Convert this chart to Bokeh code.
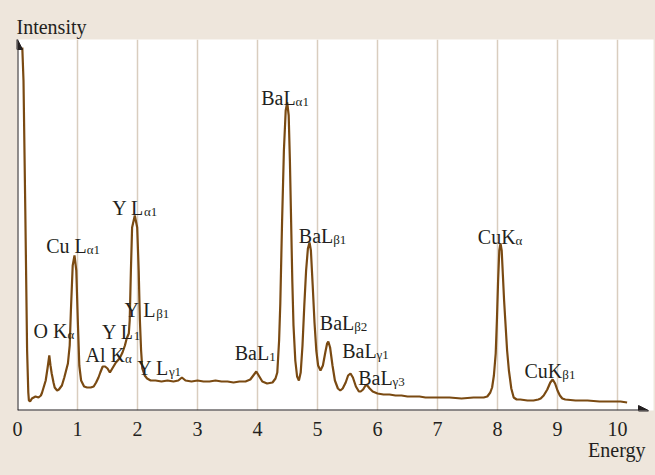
from bokeh.plotting import figure
from bokeh.models import Range1d, FixedTicker, Arrow, NormalHead, Title, ColumnDataSource
from bokeh.core.properties import value
from bokeh.embed import file_html
from bokeh.resources import INLINE
from jinja2 import Template

# ---------------- data ----------------
energy = [0.08, 0.10, 0.13, 0.16, 0.18, 0.19, 0.21, 0.24, 0.27, 0.30, 0.35, 0.39, 0.41, 0.44,
          0.47, 0.50, 0.53, 0.55, 0.57, 0.60, 0.62, 0.66, 0.69, 0.74, 0.78, 0.81, 0.84, 0.87,
          0.89, 0.92, 0.95, 0.98, 1.005, 1.03, 1.06, 1.11, 1.16, 1.22, 1.27, 1.31, 1.35, 1.38,
          1.42, 1.46, 1.50, 1.54, 1.58, 1.64, 1.70, 1.75, 1.79, 1.82, 1.855, 1.87, 1.89, 1.91,
          1.955, 1.995, 2.02, 2.04, 2.06, 2.08, 2.12, 2.16, 2.22, 2.30, 2.40, 2.50, 2.60, 2.68,
          2.74, 2.80, 2.90, 3.00, 3.10, 3.20, 3.30, 3.40, 3.50, 3.60, 3.70, 3.80, 3.88, 3.93,
          3.98, 4.03, 4.08, 4.16, 4.25, 4.30, 4.33, 4.36, 4.38, 4.41, 4.44, 4.47, 4.495, 4.52,
          4.54, 4.56, 4.58, 4.60, 4.63, 4.66, 4.69, 4.72, 4.75, 4.78, 4.81, 4.84, 4.867, 4.89,
          4.92, 4.95, 4.98, 5.01, 5.05, 5.09, 5.13, 5.16, 5.18, 5.21, 5.25, 5.29, 5.34, 5.38,
          5.42, 5.47, 5.51, 5.55, 5.59, 5.64, 5.69, 5.72, 5.76, 5.80, 5.83, 5.87, 5.92, 6.00,
          6.10, 6.20, 6.30, 6.40, 6.50, 6.60, 6.70, 6.80, 6.90, 7.00, 7.20, 7.40, 7.60, 7.77,
          7.83, 7.88, 7.91, 7.94, 7.97, 7.99, 8.01, 8.03, 8.05, 8.07, 8.09, 8.11, 8.13, 8.16,
          8.19, 8.23, 8.27, 8.32, 8.38, 8.50, 8.60, 8.68, 8.72, 8.77, 8.83, 8.88, 8.92, 8.96,
          9.00, 9.04, 9.08, 9.13, 9.30, 9.50, 9.70, 9.90, 10.05, 10.16]
intensity = [363, 330, 200, 60, 18, 10, 9, 12, 13, 14, 13, 15, 18, 24,
             30, 42, 55, 45, 37, 28, 23, 20, 21, 25, 33, 40, 47, 65,
             100, 145, 155, 140, 90, 45, 30, 24, 23, 23, 24, 28, 33, 38,
             44, 44, 42, 38, 42, 48, 52, 58, 65, 72, 77, 90, 140, 183,
             195, 183, 140, 90, 60, 42, 35, 32, 30, 30, 29, 30, 29, 30,
             33, 30, 29, 30, 29, 29, 30, 29, 29, 28, 29, 29, 31, 35,
             39, 34, 29, 27, 28, 32, 38, 70, 107, 190, 260, 300, 308, 295,
             250, 190, 130, 85, 50, 34, 30, 38, 65, 105, 140, 162, 168, 160,
             125, 88, 60, 45, 40, 45, 58, 67, 69, 63, 45, 30, 22, 20,
             22, 28, 35, 37, 33, 24, 19, 19, 21, 25, 25, 22, 19, 17,
             16, 16, 15, 15, 14, 14, 14, 13, 13, 13, 13, 12, 13, 13,
             14, 18, 23, 35, 57, 90, 130, 160, 167, 160, 135, 110, 90, 60,
             40, 22, 13, 11, 11, 10, 10, 11, 12, 15, 21, 28, 31, 27,
             20, 15, 12, 11, 10, 10, 9, 9, 9, 8]

x_ticks = [0, 1, 2, 3, 4, 5, 6, 7, 8, 9, 10]
grid_lines = [1, 2, 3, 4, 5, 6, 7, 8, 9, 10]

label_main = ["Cu L", "Y L", "Y L", "Y L", "Al K", "O K", "Y L", "BaL", "BaL", "BaL",
              "BaL", "BaL", "BaL", "CuK", "CuK"]
label_sub = ["α1", "α1", "β1", "1", "α", "α", "γ1", "1", "α1", "β1",
             "β2", "γ1", "γ3", "α", "β1"]
label_x = [1.155, 2.107, 2.312, 1.937, 1.790, 0.832, 2.523, 4.195, 4.635, 5.262,
           5.612, 5.985, 6.252, 8.302, 9.080]
label_y = [165, 203, 101, 79, 56, 80, 43, 58, 313, 175,
           88, 60, 33, 174, 40]

# ---------------- styling ----------------
BG = "#EEE6DC"
GRID = "#D9CDBF"
LINE = "#7A4A12"
INK = "#231F20"
FONT = "Liberation Serif"

x_max, y_max = 10.6, 371

p = figure(width=655, height=475, output_backend="svg", toolbar_location=None,
           x_range=Range1d(0, x_max), y_range=Range1d(0, y_max),
           y_axis_location=None, title=None,
           min_border_left=17, min_border_right=2, min_border_top=39, min_border_bottom=65)
p.border_fill_color = BG
p.background_fill_color = "white"
p.outline_line_color = None
p.ygrid.grid_line_color = None

ax = p.xaxis[0]
ax.ticker = FixedTicker(ticks=x_ticks)
ax.axis_line_color = None
ax.major_tick_line_color = None
ax.minor_tick_line_color = None
ax.major_tick_out = 0
ax.major_tick_in = 0
ax.major_label_standoff = 11
ax.major_label_text_font = FONT
ax.major_label_text_font_size = "20px"
ax.major_label_text_color = INK

p.xgrid.ticker = FixedTicker(ticks=grid_lines)
p.xgrid.grid_line_color = GRID
p.xgrid.grid_line_width = 1.5

src = ColumnDataSource(dict(e=energy, i=intensity))
p.line("e", "i", source=src, line_color=LINE, line_width=2.2)

lab = ColumnDataSource(dict(x=label_x, y=label_y, main=label_main, sub=label_sub))
p.text("x", "y", text="main", source=lab, text_font=value(FONT), text_font_size="20px",
       text_align="right", text_baseline="alphabetic", text_color=INK)
p.text("x", "y", text="sub", source=lab, text_font=value(FONT), text_font_size="13px",
       text_align="left", text_baseline="alphabetic", text_color=INK, y_offset=4)

# axes with arrow heads
p.add_layout(Arrow(end=NormalHead(size=10, fill_color=INK, line_color=INK),
                   x_start=0, y_start=0, x_end=x_max - 0.083, y_end=0,
                   line_color=INK, line_width=2))
p.add_layout(Arrow(end=NormalHead(size=10, fill_color=INK, line_color=INK),
                   x_start=0, y_start=0, x_end=0, y_end=y_max,
                   line_color=INK, line_width=2))

# axis titles
p.add_layout(Title(text="Intensity", align="left", offset=-1, standoff=3,
                   text_font=FONT, text_font_size="20px", text_font_style="normal",
                   text_color=INK), "above")
p.add_layout(Title(text="Energy", align="right", offset=8, standoff=-3,
                   text_font=FONT, text_font_size="20px", text_font_style="normal",
                   text_color=INK), "below")

page_template = Template("""{% extends base %}
{% block preamble %}<style>html, body { background: #EEE6DC; }</style>{% endblock %}""")

open("out.html", "w").write(file_html(p, INLINE, template=page_template))
